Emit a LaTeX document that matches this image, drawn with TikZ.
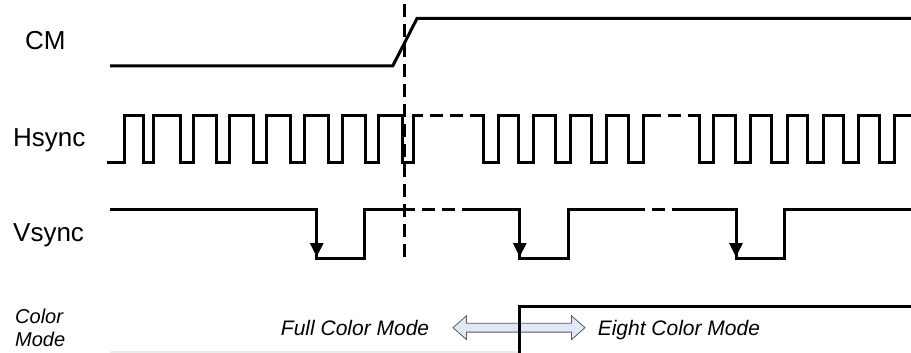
\documentclass[tikz,border=0pt]{standalone}
\usepackage{fontspec}
\setmainfont{Liberation Sans}
\usetikzlibrary{shapes.arrows,arrows.meta,positioning}
\definecolor{swapfill}{RGB}{222,232,246}
\definecolor{swapline}{RGB}{90,90,90}

\begin{document}
\begin{tikzpicture}[x=1pt, y=-1pt,
    wave/.style={line width=3pt},
    skip/.style={wave, dash pattern=on 13pt off 7pt, dash phase=13pt},
    cut/.style={line width=3pt, dash pattern=on 13pt off 7pt},
    fall/.style={wave, -{Triangle[length=14pt,width=13pt]}},
    signame/.style={anchor=base west, inner sep=0pt, font=\fontsize{26}{30}\selectfont},
    modename/.style={inner sep=0pt, text height=15.5pt, text depth=0pt,
                     font=\fontsize{21}{25}\selectfont\itshape},
    swap/.style={double arrow, draw=swapline, fill=swapfill, line width=0.8pt,
                 inner xsep=0pt, inner ysep=4pt, minimum height=132pt,
                 double arrow head extend=7.5pt, double arrow tip angle=83},
  ]
  \useasboundingbox (0,0) rectangle (911,353);

  % signal names
  \node[signame] (cm) at (25,50) {CM};
  \node[signame] (hs) at (13,146.7) {Hsync};
  \node[signame] (vs) at (13,241.7) {Vsync};
  \node[signame, align=left, font=\fontsize{20}{23}\selectfont\itshape] (cmode) at (15,346) {Color\\Mode};

  % CM
  \draw[wave] (110,66) -- (392.7,66) -- (417,18.5) -- (911,18.5);

  % Hsync
  \draw[wave] (107,162)
    \foreach \r/\f in {124/143,153/180,193/216,229/253,266/290,304/328,342/365,378/402}
      { -- (\r,162) -- (\r,115) -- (\f,115) -- (\f,162) }
    -- (413,162) -- (413,115) -- (423,115);
  \draw[skip] (423,115) -- (470,115);
  \draw[wave] (470,115)
    \foreach \f/\r in {483/498,518/533,555/570,591/606,628/643}
      { -- (\f,115) -- (\f,162) -- (\r,162) -- (\r,115) }
    -- (661,115);
  \draw[skip] (661,115) -- (688,115);
  \draw[wave] (688,115)
    \foreach \f/\r in {699/713,735/750,771/787,807/823,843/858,879/894}
      { -- (\f,115) -- (\f,162) -- (\r,162) -- (\r,115) }
    -- (911,115);

  % Vsync
  \draw[wave] (110,209.5) -- (316.7,209.5) -- (316.7,258) -- (364.3,258) -- (364.3,209.5) -- (415,209.5);
  \draw[skip] (415,209.5) -- (462,209.5);
  \draw[wave] (462,209.5) -- (519.7,209.5) -- (519.7,258) -- (568.3,258) -- (568.3,209.5) -- (645,209.5);
  \draw[skip] (645,209.5) -- (672,209.5);
  \draw[wave] (672,209.5) -- (736,209.5) -- (736,258) -- (784,258) -- (784,209.5) -- (911,209.5);
  \foreach \x in {316.7,519.7,736}
    \draw[fall] (\x,238) -- (\x,257);

  % mode change
  \draw[cut] (404,4) -- (404,262);

  % color mode
  \node[swap] (swap) at (519,327.7) {};
  \node[modename, left=23pt of swap] (full) {Full Color Mode};
  \node[modename, right=12pt of swap] (eight) {Eight Color Mode};
  \draw[gray!15, line width=1.5pt] (110,352) -- (519.3,352);
  \draw[wave] (519.3,354) -- (519.3,306) -- (911,306);
\end{tikzpicture}
\end{document}
